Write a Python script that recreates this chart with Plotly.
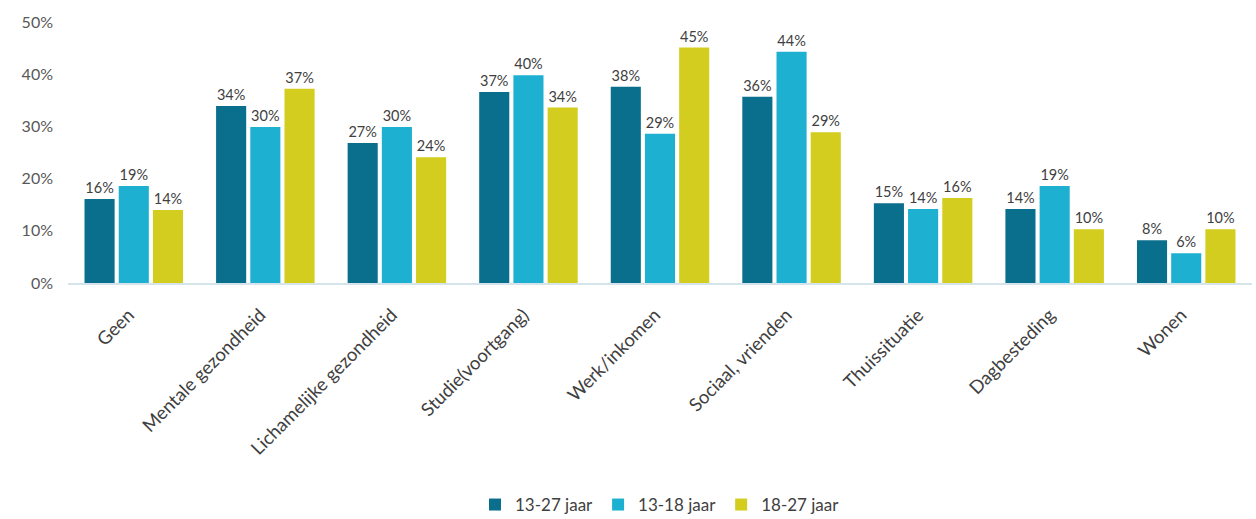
import plotly.graph_objects as go

categories = ["Geen", "Mentale gezondheid", "Lichamelijke gezondheid", "Studie(voortgang)",
              "Werk/inkomen", "Sociaal, vrienden", "Thuissituatie", "Dagbesteding", "Wonen"]
series_names = ["13-27 jaar", "13-18 jaar", "18-27 jaar"]
v_13_27 = [16.1, 33.9, 26.8, 36.6, 37.6, 35.7, 15.3, 14.2, 8.2]
v_13_18 = [18.6, 29.9, 29.9, 39.8, 28.6, 44.3, 14.2, 18.6, 5.7]
v_18_27 = [14.0, 37.2, 24.1, 33.6, 45.1, 28.9, 16.3, 10.3, 10.3]
colors = ["#0a6e8d", "#1eb0d0", "#d3cd1f"]

fig = go.Figure()
for name, vals, col in zip(series_names, [v_13_27, v_13_18, v_18_27], colors):
    fig.add_trace(go.Bar(
        x=categories, y=[v / 100 for v in vals], name=name,
        marker=dict(color=col, line=dict(width=0)),
        text=[f"{round(v)}%" for v in vals], textposition="outside",
        textfont=dict(size=14.5, color="#404040", family="Lato"),
        cliponaxis=False,
    ))

fig.update_layout(
    width=1256, height=519,
    margin=dict(l=68, r=4, t=22, b=236, autoexpand=False),
    paper_bgcolor="white", plot_bgcolor="white",
    barmode="group", bargap=0.22, bargroupgap=0.12,
    font=dict(family="Lato", color="#595959", size=14),
    showlegend=True,
    legend=dict(orientation="h", x=0.5, xanchor="center", yref="container", y=0.027,
                yanchor="middle", font=dict(size=17, color="#404040"), itemwidth=30,
                traceorder="normal"),
    uniformtext=dict(mode=False),
)
fig.update_xaxes(tickangle=-45, showline=True, linecolor="#d5e3ea", linewidth=2,
                 ticks="", tickfont=dict(size=18.5, color="#404040"), showgrid=False,
                 ticklabelstandoff=12, ticklabelshift=-5, automargin=False)
fig.update_yaxes(range=[0, 0.5], dtick=0.1, tickformat=".0%", showgrid=False,
                 zeroline=False, showline=False, ticks="", ticklabelstandoff=14,
                 tickfont=dict(size=16, color="#595959"), automargin=False)

fig.write_html("out.html")
